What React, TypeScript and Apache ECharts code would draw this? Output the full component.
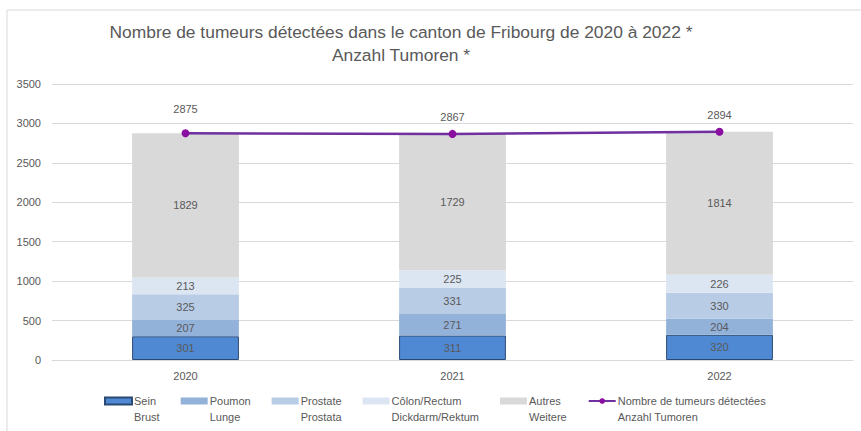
import React, { useEffect, useRef } from "react";
import * as echarts from "echarts";

const years = ["2020", "2021", "2022"];
const sein = [301, 311, 320];
const poumon = [207, 271, 204];
const prostate = [325, 331, 330];
const colon = [213, 225, 226];
const autres = [1829, 1729, 1814];
const totals = [2875, 2867, 2894];
const totalLabelDistance = [15, 7, 7];

const FONT = "Liberation Sans";
const TXT = "#595959";

export default function App() {
  const ref = useRef<HTMLDivElement>(null);
  useEffect(() => {
    if (!ref.current) return;
    const chart = echarts.init(ref.current, null, { renderer: "svg" });
    const barLabel = { show: true, position: "inside", color: TXT, fontSize: 11, fontFamily: FONT };
    const mkBar = (name: string, data: number[], color: string, border?: string) => ({
      name,
      type: "bar",
      stack: "t",
      data,
      barWidth: "40%",
      itemStyle: border ? { color, borderColor: border, borderWidth: 1 } : { color },
      label: barLabel,
      emphasis: { disabled: true },
    });
    chart.setOption({
      animation: false,
      textStyle: { fontFamily: FONT },
      graphic: [
        {
          type: "rect",
          shape: { x: 7, y: 10, width: 1000, height: 600 },
          style: { fill: "none", stroke: "#d9d9d9", lineWidth: 1 },
          silent: true,
          z: -10,
        },
        {
          type: "text",
          x: 401,
          y: 32,
          style: {
            text: "Nombre de tumeurs détectées dans le canton de Fribourg de 2020 à 2022 *",
            fill: TXT,
            fontSize: 17.4,
            fontFamily: FONT,
            textAlign: "center",
            textVerticalAlign: "middle",
          },
        },
        {
          type: "text",
          x: 401,
          y: 55,
          style: {
            text: "Anzahl Tumoren *",
            fill: TXT,
            fontSize: 17.4,
            fontFamily: FONT,
            textAlign: "center",
            textVerticalAlign: "middle",
          },
        },
      ],
      grid: { left: 52, right: 8, top: 84, bottom: 71, containLabel: false },
      legend: {
        left: 104,
        top: 377,
        padding: 0,
        itemWidth: 27,
        itemHeight: 7,
        itemGap: 21,
        formatter: (name: string) => " \n" + name,
        textStyle: {
          color: TXT,
          fontSize: 11,
          fontFamily: FONT,
          lineHeight: 16,
          align: "left",
          padding: [0, 0, 0, -3],
        },
        data: [
          { name: "Sein\nBrust", icon: "rect" },
          { name: "Poumon\nLunge", icon: "rect" },
          { name: "Prostate\nProstata", icon: "rect" },
          { name: "Côlon/Rectum\nDickdarm/Rektum", icon: "rect" },
          { name: "Autres\nWeitere", icon: "rect" },
          { name: "Nombre de tumeurs détectées\nAnzahl Tumoren" },
        ],
      },
      xAxis: {
        type: "category",
        data: years,
        axisLine: { lineStyle: { color: "#d9d9d9" } },
        axisTick: { show: false },
        axisLabel: { color: TXT, fontSize: 11, fontFamily: FONT, margin: 10 },
      },
      yAxis: {
        type: "value",
        min: 0,
        max: 3500,
        interval: 500,
        axisLine: { show: false },
        axisTick: { show: false },
        axisLabel: {
          color: TXT,
          fontSize: 11,
          fontFamily: FONT,
          margin: 11,
          formatter: (v: number) => String(v),
        },
        splitLine: { lineStyle: { color: "#d9d9d9" } },
      },
      series: [
        mkBar("Sein\nBrust", sein, "#5089d3", "#2b4a73"),
        mkBar("Poumon\nLunge", poumon, "#93b2d9"),
        mkBar("Prostate\nProstata", prostate, "#b8cce6"),
        mkBar("Côlon/Rectum\nDickdarm/Rektum", colon, "#dce6f2"),
        mkBar("Autres\nWeitere", autres, "#d9d9d9"),
        {
          name: "Nombre de tumeurs détectées\nAnzahl Tumoren",
          type: "line",
          data: totals.map((v, i) => ({ value: v, label: { distance: totalLabelDistance[i] } })),
          symbol: "circle",
          symbolSize: 8,
          lineStyle: { color: "#7030a0", width: 2.5 },
          itemStyle: { color: "#8a0fa0" },
          label: { show: true, position: "top", color: TXT, fontSize: 11, fontFamily: FONT },
          emphasis: { disabled: true },
          z: 5,
        },
      ],
    });
    return () => chart.dispose();
  }, []);
  return (
    <div
      ref={ref}
      style={{ position: "fixed", left: 0, top: 0, width: 861, height: 431, background: "#fff" }}
    />
  );
}
